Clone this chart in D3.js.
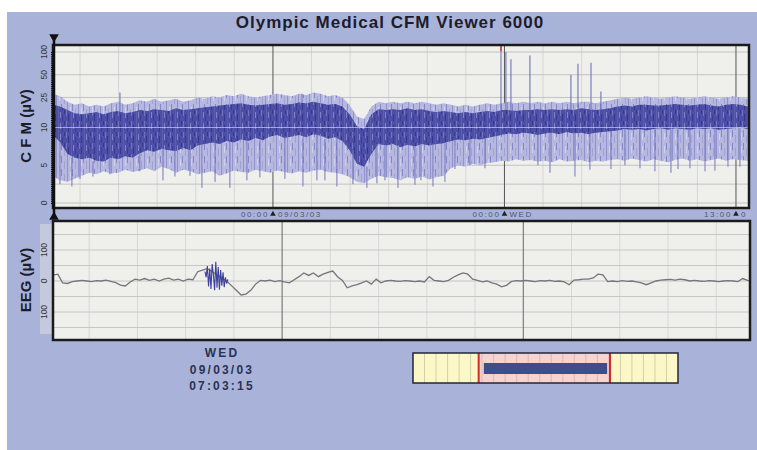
<!DOCTYPE html>
<html>
<head>
<meta charset="utf-8">
<script src="https://cdn.jsdelivr.net/npm/d3@7"></script>
<style>
body{margin:0;background:#fff;}
text{font-family:"Liberation Sans",Arial,sans-serif;}
</style>
</head>
<body>
<div id="viewer"></div>
<script>
//CFM trend : one column every 0.75 h, hours counted from 00:00 09/03/03
const cfmStart = -22.8, cfmStep = 0.75;
const cfmMax = [28,26,22,20,21,19,20,19,21,22, 20,21,23,22,24,22,23,24,22,23, 25,24,26,25,27,26,28,26,25,26,
  27,28,27,26,28,27,29,28,26,27, 25,20,14,13,19,22,21,22,21,22, 21,22,21,20,21,20,19,20,19,20,
  21,20,21,22,21,22,21,22,21,22, 21,22,21,22,22,21,22,23,24,25, 24,25,26,25,24,25,26,25,24,25,
  26,25,24,25,26,25,24,24];
const cfmHigh = [20,19,17,15.5,15,15.5,16,15,16,16.5, 15.5,16,17,16.5,17.5,17,16.5,18,17,17.5, 18,18.5,19,19.5,20,20.5,21,20,19.5,20,
  20.5,21,20,20.5,21.5,21,22,21,20,20.5, 19,15,10.5,9.8,15,17.5,17,17.5,17,18, 17,17.5,16.5,16,16.5,16,15.5,16,15.5,16,
  16.5,16,17,17,16.5,17,17,17.5,17,17.5, 17,17.5,17,18,17.5,17,17.5,18,19,19.5, 19,20,20,19.5,19.5,20,20.5,20,19.5,20,
  20.5,19.5,19,20,20.5,20,19,19];
const cfmLow = [9,8,6.5,6,5.8,6,5.6,5.5,6,5.8, 6.2,6,6.6,7,6.8,7.2,7,6.9,7.3,7, 7.6,7.8,8,7.8,8.2,8,8.4,8.2,8.6,8.3,
  8.8,9,8.6,8.8,9,8.7,9.1,8.9,8.5,8.7, 8.2,7,5.2,4.8,6.5,7.8,7.6,7.8,7.4,7.7, 7.5,7.8,7.6,7.8,7.9,8.2,8.4,8.3,8.5,8.4,
  8.6,8.8,9,9.2,9.1,9.3,9.2,9,9.2,9.3, 9.1,9.4,9.2,9.3,9.1,9.3,9.4,9.5,9.6,9.8, 9.7,9.8,9.6,9.8,9.9,9.7,9.9,9.8,9.7,9.9,
  9.8,9.9,9.7,9.8,9.9,10,9.8,9.8];
const cfmMin = [3.5,3,2.8,3.2,3.6,4,3.8,4.2,3.9,4, 4.4,4.1,4.3,4.6,4.2,4.8,4.5,4,4.4,4.2, 3.8,4,4.2,3.6,3.9,4.3,4.1,4,4.4,4.2,
  4,4.3,4.1,3.9,4.2,4,4.3,4.4,4.1,4, 3.8,3.4,2.8,2.6,3.2,3.6,3.4,3.3,3,3.4, 3.2,3.5,3.1,3.4,3.6,4.6,5,4.8,5.2,5,
  5.3,5.4,5.6,5.5,5.8,5.6,5.7,5.5,5.6,5.4, 5.8,5.5,5.6,5.7,5.4,5.6,5.5,5.7,5.8,5.6, 5.9,5.7,5.5,5.8,5.6,5.4,5.7,5.9,5.6,5.8,
  5.5,5.7,5.9,5.6,5.8,5.7,5.6,5.6];
//single drops under the band [hour, µV]
const cfmDips = [[-22.08,2.5],[-20.84,2.2],[-20.0,3.2],[-18.66,3.5],[-16.9,3.8],[-13.8,4.2],[-11.4,3.0],[-10.16,3.5],
  [-8.6,3.6],[-7.36,2.0],[-6.0,2.8],[-4.46,2.0],[-2.7,3.0],[-1.35,3.4],[1.24,3.2],[3.11,2.2],[4.56,3.0],[5.39,3.0],
  [6.63,2.2],[8.29,2.5],[9.74,2.0],[10.78,2.6],[11.61,3.0],[12.96,2.0],[14.72,2.4],[15.34,3.0],[16.59,2.2],[17.83,2.8],
  [18.87,4.5],[20.42,5.0],[21.98,4.6],[27.47,5.0],[28.72,4.0],[31.31,3.5],[32.86,4.4],[35.04,4.5],[36.49,5.0],
  [38.05,4.6],[39.6,4.2],[41.26,4.0],[41.99,4.5],[43.23,4.6],[44.79,4.2],[45.82,4.3],[47.17,4.8],[48.41,4.8]];
//artefact spikes over the band [hour, µV]
const cfmSpikes = [[-15.86,29],[3.01,28],[23.64,150],[24.15,100],[24.67,80],[26.64,90],[30.89,50],[31.62,70],[32.97,72],[34.0,30]];
const cfmTicks = [0,5,10,25,50,100];
const cfmGrid = [0,2.5,5,10,25,50,100];
const timeMarks = [0,24,48];
const timeLeft = ["00:00","00:00","13:00"];
const timeRight = ["09/03/03","WED","0"];

//EEG page : one sample every 0.1 s
const eegStart = -4.75, eegStep = 0.1;
const eegValues = [19,22,-6,-8,-2,0,2,0,-2,1, 0,3,-1,-5,-13,-16,-3,6,3,8, 2,6,0,6,9,3,6,0,6,4,
  30,35,40,30,20,10,0,-15,-30,-45, -42,-30,-10,2,0,3,-2,1,-3,-6, 4,14,26,18,26,14,22,28,32,14,
  2,-22,-16,-12,-6,0,-10,6,-6,0, 2,0,-1,1,0,-2,0,-3,14,2, 0,-2,2,12,20,26,22,6,2,-3,
  0,-6,-10,-19,-14,-2,1,0,2,0, -2,1,0,2,-1,0,-3,-12,3,4, 6,6,10,22,20,-2,0,-2,1,-1,
  0,-3,-6,-12,-6,0,3,4,5,3, 6,4,0,2,0,-1,1,0,-2,0, 1,0,-2,8,2,0];
//fast burst drawn in blue
const burstStart = -1.6, burstStep = 0.025;
const burstValues = [30,12,48,-18,40,-26,55,20,-30,62,-22,45,-28,35,-15,28,-20,12,-8,5];
const eegTicks = [100,0,-100];
const eegTickLabels = ["100","0","100"];
const eegGrid = [-150,-100,-50,0,50,100,150];

const dateLines = ["WED","09/03/03","07:03:15"];

//navigator over the whole recording
const navDomain = [0,23];
const navWindow = [5.7,17.1];
const navBar = [6.15,16.85];

const W = 757, H = 450;
const topBox = {x:53, y:45, w:696, h:163};
const eegBox = {x:53, y:221, w:697, h:119};

const svg = d3.select("#viewer").append("svg").attr("width",W).attr("height",H);
svg.append("rect").attr("width",W).attr("height",H).attr("fill","#fff");
svg.append("rect").attr("x",7).attr("y",12).attr("width",W-7).attr("height",H-12).attr("fill","#a9b3d9");

svg.append("text").attr("x",390).attr("y",28).attr("text-anchor","middle")
  .attr("font-size",17).attr("font-weight","bold").attr("letter-spacing",1).attr("fill","#1c1c2a")
  .text("Olympic Medical CFM Viewer 6000");

//semi-log scale : linear 0-10, log 10-100
const tr = v => v <= 10 ? v/10 : 1 + Math.log10(v/10);
const yC = d3.scaleLinear().domain([0,2]).range([203,52]);
const yCfm = v => yC(tr(v));
const xT = d3.scaleLinear().domain([-22.8,49.35]).range([topBox.x, topBox.x+topBox.w]);

const defs = svg.append("defs");
defs.append("clipPath").attr("id","clipTop").append("rect")
  .attr("x",topBox.x).attr("y",topBox.y).attr("width",topBox.w).attr("height",topBox.h);
defs.append("clipPath").attr("id","clipEeg").append("rect")
  .attr("x",eegBox.x).attr("y",eegBox.y).attr("width",eegBox.w).attr("height",eegBox.h);

//streaky fills so the band reads as a dense trace
const makeStreaks = (id, w, h, base, streaks) => {
  const p = defs.append("pattern").attr("id",id).attr("patternUnits","userSpaceOnUse").attr("width",w).attr("height",h);
  p.append("rect").attr("width",w).attr("height",h).attr("fill",base);
  streaks.forEach(s => p.append("rect").attr("x",s[0]).attr("y",s[1]).attr("width",1).attr("height",s[2]).attr("fill",s[3]));
};
makeStreaks("denseFill", 13, 11, "#4c4fa5", [[1,0,6,"#7275bd"],[3,4,7,"#34378d"],[6,0,11,"#5c5fb0"],[8,2,6,"#8083c6"],[10,5,6,"#393c92"],[12,0,4,"#35388e"]]);
makeStreaks("lightFill", 11, 13, "#b6b8e0", [[1,0,13,"#8f92cc"],[4,3,7,"#cfd0ea"],[6,0,7,"#8588c8"],[9,5,8,"#a0a2d4"]]);

/////////////////////// CFM panel ///////////////////////
const gTop = svg.append("g");
gTop.append("rect").attr("x",topBox.x).attr("y",topBox.y).attr("width",topBox.w).attr("height",topBox.h).attr("fill","#efefec");
gTop.append("g").selectAll("line").data(d3.range(-20,49.4,4).filter(h=>timeMarks.indexOf(h)<0)).join("line")
  .attr("x1",d=>xT(d)).attr("x2",d=>xT(d)).attr("y1",topBox.y).attr("y2",topBox.y+topBox.h)
  .attr("stroke","#d6d6d6");
gTop.append("g").selectAll("line").data(cfmGrid).join("line")
  .attr("x1",topBox.x).attr("x2",topBox.x+topBox.w).attr("y1",d=>yCfm(d)).attr("y2",d=>yCfm(d))
  .attr("stroke","#c2c2c2");
gTop.append("g").selectAll("line").data(timeMarks).join("line")
  .attr("x1",d=>xT(d)).attr("x2",d=>xT(d)).attr("y1",topBox.y).attr("y2",topBox.y+topBox.h)
  .attr("stroke","#555");

const gData = gTop.append("g").attr("clip-path","url(#clipTop)");
const idx = d3.range(cfmMax.length);
const xCol = i => xT(cfmStart + i*cfmStep);
const colOf = t => Math.max(0, Math.min(cfmMax.length-1, Math.round((t-cfmStart)/cfmStep)));

gData.append("path").datum(idx)
  .attr("d", d3.area().x(xCol).y0(i=>yCfm(cfmMin[i])).y1(i=>yCfm(cfmMax[i])))
  .attr("fill","url(#lightFill)");
gData.append("path").datum(idx)
  .attr("d", d3.area().x(xCol).y0(i=>yCfm(cfmLow[i])).y1(i=>yCfm(cfmHigh[i])))
  .attr("fill","url(#denseFill)");

gData.append("g").selectAll("line").data(cfmDips).join("line")
  .attr("x1",d=>xT(d[0])).attr("x2",d=>xT(d[0]))
  .attr("y1",d=>yCfm(cfmLow[colOf(d[0])])).attr("y2",d=>yCfm(d[1]))
  .attr("stroke","#7477bd").attr("stroke-width",1);
gData.append("g").selectAll("line").data(cfmSpikes).join("line")
  .attr("x1",d=>xT(d[0])).attr("x2",d=>xT(d[0]))
  .attr("y1",d=>yCfm(cfmHigh[colOf(d[0])])).attr("y2",d=>yCfm(d[1]))
  .attr("stroke","#7073b6").attr("stroke-width",1.1);
//10 µV reference drawn over the trace
gData.append("line").attr("x1",topBox.x).attr("x2",topBox.x+topBox.w).attr("y1",yCfm(10)).attr("y2",yCfm(10))
  .attr("stroke","#e4e4f4").attr("opacity",0.6);
//overflow marks
gTop.append("g").selectAll("line").data(cfmSpikes.filter(d=>d[1]>100)).join("line")
  .attr("x1",d=>xT(d[0])).attr("x2",d=>xT(d[0])).attr("y1",topBox.y).attr("y2",topBox.y+6)
  .attr("stroke","#e03030").attr("stroke-width",1.5);

gTop.append("rect").attr("x",topBox.x).attr("y",topBox.y).attr("width",topBox.w).attr("height",topBox.h)
  .attr("fill","none").attr("stroke","#1b1b1b").attr("stroke-width",2.5);

//ruler axis
svg.append("g").attr("transform","translate(54,0)")
  .call(d3.axisLeft(yC).tickValues(d3.range(0,2.001,0.025)).tickSize(3).tickFormat(""))
  .call(g=>g.select(".domain").remove())
  .call(g=>g.selectAll("line").attr("stroke","#111"));
svg.append("line").attr("x1",54).attr("x2",54).attr("y1",38).attr("y2",215).attr("stroke","#111").attr("stroke-width",2.5);
svg.append("path").attr("d",d3.symbol(d3.symbolTriangle,40)()).attr("transform","translate(54,37) rotate(180)").attr("fill","#111");
svg.append("path").attr("d",d3.symbol(d3.symbolTriangle,40)()).attr("transform","translate(54,217)").attr("fill","#111");
svg.append("g").selectAll("text").data(cfmTicks).join("text")
  .attr("transform",d=>`translate(47,${yCfm(d)}) rotate(-90)`)
  .attr("text-anchor","middle").attr("font-size",8.5).attr("fill","#333").text(d=>d);
svg.append("text").attr("transform","translate(31,126) rotate(-90)").attr("text-anchor","middle")
  .attr("font-size",15).attr("font-weight","bold").attr("fill","#1c1c2a").text("C F M (µV)");

//time marks between the panels
const gMarks = svg.append("g").attr("font-size",8).attr("fill","#4d5578").attr("letter-spacing",1.6);
timeMarks.forEach((h,i)=>{
  const x = xT(h);
  gMarks.append("text").attr("x",x-4).attr("y",217).attr("text-anchor","end").text(timeLeft[i]);
  gMarks.append("path").attr("d",d3.symbol(d3.symbolTriangle,14)()).attr("transform",`translate(${x},214)`).attr("fill","#222");
  gMarks.append("text").attr("x",x+5).attr("y",217).text(timeRight[i]);
});

/////////////////////// EEG panel ///////////////////////
const xE = d3.scaleLinear().domain([-4.75,9.7]).range([eegBox.x, eegBox.x+eegBox.w]);
const yE = d3.scaleLinear().domain([-100,100]).range([312,250]);

svg.append("rect").attr("x",40).attr("y",224).attr("width",13).attr("height",110).attr("fill","#c4c9de");
const gEeg = svg.append("g");
gEeg.append("rect").attr("x",eegBox.x).attr("y",eegBox.y).attr("width",eegBox.w).attr("height",eegBox.h).attr("fill","#efefec");
gEeg.append("g").selectAll("line").data(d3.range(-4,9.8,1).filter(s=>s!==0&&s!==5)).join("line")
  .attr("x1",d=>xE(d)).attr("x2",d=>xE(d)).attr("y1",eegBox.y).attr("y2",eegBox.y+eegBox.h)
  .attr("stroke","#d8d8d8");
gEeg.append("g").selectAll("line").data(eegGrid).join("line")
  .attr("x1",eegBox.x).attr("x2",eegBox.x+eegBox.w).attr("y1",d=>yE(d)).attr("y2",d=>yE(d))
  .attr("stroke","#c6c6c6");
gEeg.append("g").selectAll("line").data([0,5]).join("line")
  .attr("x1",d=>xE(d)).attr("x2",d=>xE(d)).attr("y1",eegBox.y).attr("y2",eegBox.y+eegBox.h)
  .attr("stroke","#666");

const gTrace = gEeg.append("g").attr("clip-path","url(#clipEeg)");
gTrace.append("path").datum(eegValues)
  .attr("d", d3.line().x((d,i)=>xE(eegStart+i*eegStep)).y(d=>yE(d)))
  .attr("fill","none").attr("stroke","#75757e").attr("stroke-width",1.3);
gTrace.append("path").datum(burstValues)
  .attr("d", d3.line().x((d,i)=>xE(burstStart+i*burstStep)).y(d=>yE(d)))
  .attr("fill","none").attr("stroke","#3d419c").attr("stroke-width",1.1);

gEeg.append("rect").attr("x",eegBox.x).attr("y",eegBox.y).attr("width",eegBox.w).attr("height",eegBox.h)
  .attr("fill","none").attr("stroke","#1b1b1b").attr("stroke-width",2.5);
svg.append("g").selectAll("text").data(eegTicks).join("text")
  .attr("transform",d=>`translate(47,${yE(d)}) rotate(-90)`)
  .attr("text-anchor","middle").attr("font-size",8.5).attr("fill","#333").text((d,i)=>eegTickLabels[i]);
svg.append("text").attr("transform","translate(31,280) rotate(-90)").attr("text-anchor","middle")
  .attr("font-size",15).attr("font-weight","bold").attr("fill","#1c1c2a").text("EEG (µV)");

/////////////////////// date + navigator ///////////////////////
svg.append("g").selectAll("text").data(dateLines).join("text")
  .attr("x",222).attr("y",(d,i)=>357+i*16.5).attr("text-anchor","middle")
  .attr("font-size",12).attr("font-weight","bold").attr("letter-spacing",2.2).attr("fill","#2b3252").text(d=>d);

const xN = d3.scaleLinear().domain(navDomain).range([413,678]);
const gNav = svg.append("g");
gNav.append("rect").attr("x",xN(navDomain[0])).attr("y",353).attr("width",xN(navDomain[1])-xN(navDomain[0])).attr("height",30).attr("fill","#fbf7c6");
gNav.append("rect").attr("x",xN(navWindow[0])).attr("y",353).attr("width",xN(navWindow[1])-xN(navWindow[0])).attr("height",30).attr("fill","#f6d2d0");
gNav.append("g").selectAll("line").data(d3.range(1,23,1)).join("line")
  .attr("x1",d=>xN(d)).attr("x2",d=>xN(d)).attr("y1",353).attr("y2",383)
  .attr("stroke",d=>d>navWindow[0]&&d<navWindow[1]?"#e6b4b4":"#d6cfa8");
gNav.append("rect").attr("x",xN(navBar[0])).attr("y",363).attr("width",xN(navBar[1])-xN(navBar[0])).attr("height",11).attr("fill","#3f4d8c");
gNav.append("g").selectAll("line").data(navWindow).join("line")
  .attr("x1",d=>xN(d)).attr("x2",d=>xN(d)).attr("y1",353).attr("y2",383)
  .attr("stroke","#d42a2a").attr("stroke-width",2);
gNav.append("rect").attr("x",xN(navDomain[0])).attr("y",353).attr("width",xN(navDomain[1])-xN(navDomain[0])).attr("height",30)
  .attr("fill","none").attr("stroke","#22263a").attr("stroke-width",1.5);
</script>
</body>
</html>
